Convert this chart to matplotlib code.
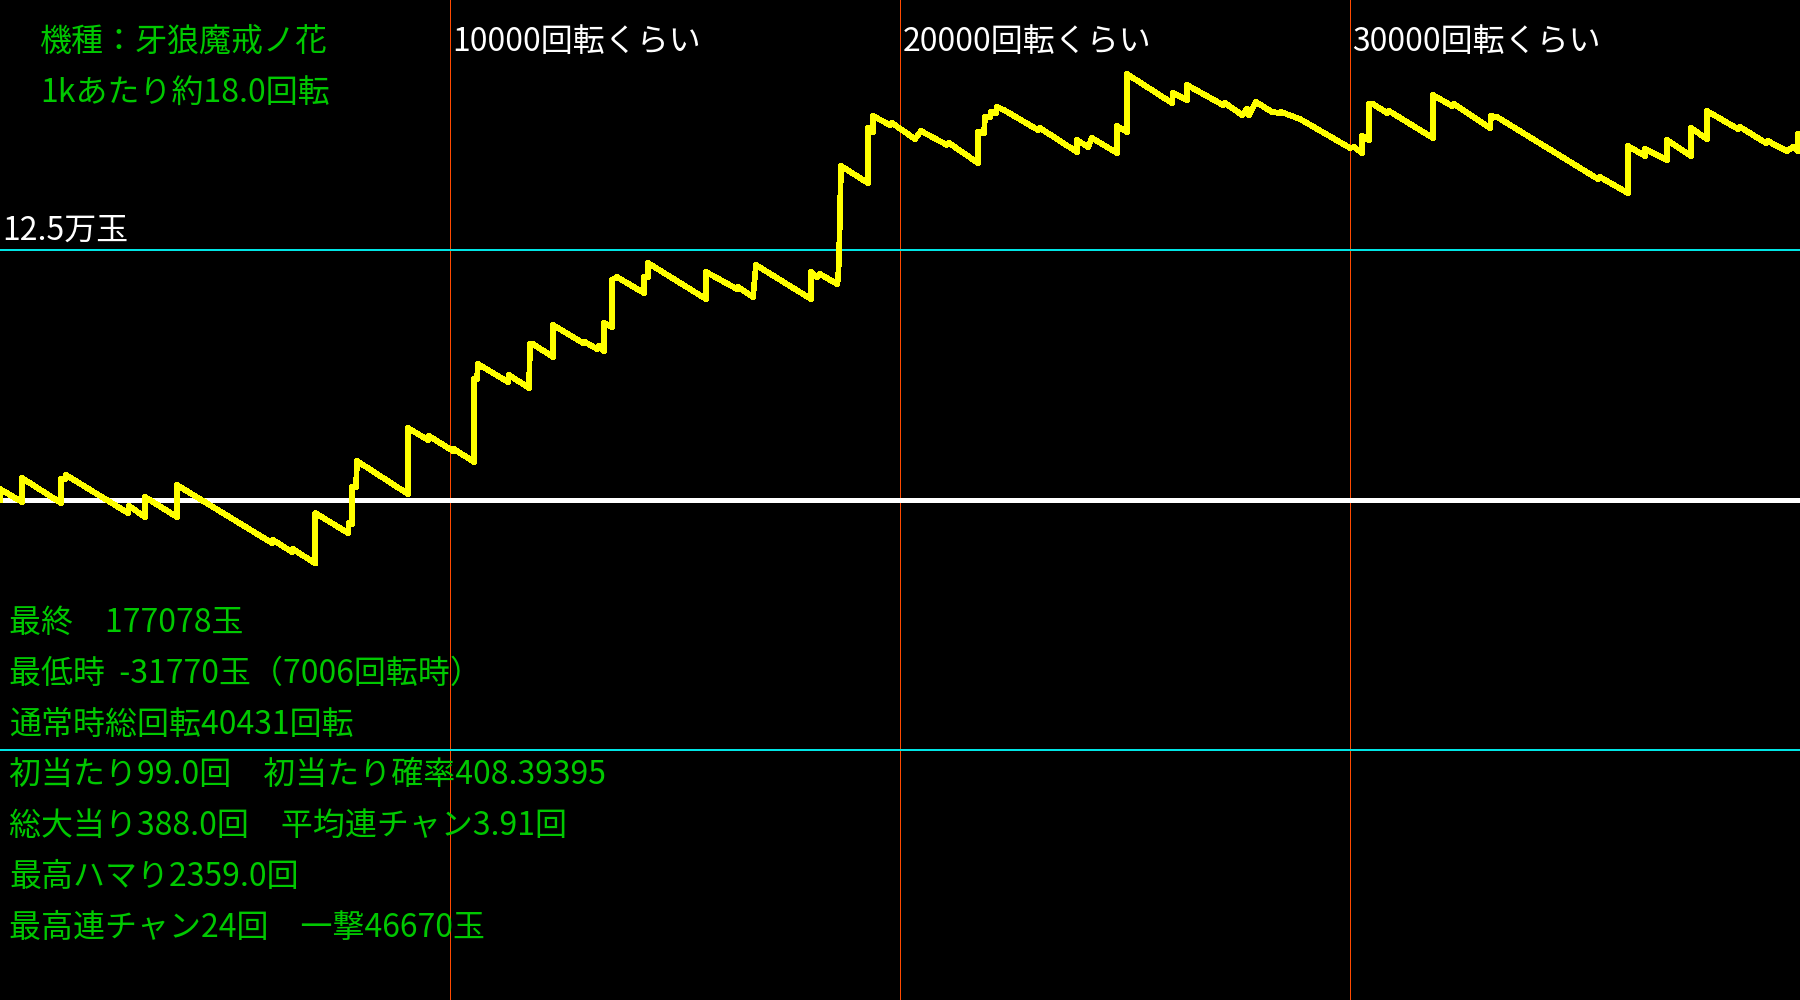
import matplotlib
matplotlib.use('Agg')
import matplotlib.pyplot as plt

plt.rcParams['font.family'] = ['Noto Sans CJK JP', 'DejaVu Sans']

# 差玉グラフの折れ点（回転数, 差玉）
kaiten = [0, 0, 489, 489, 1356, 1356, 1444, 1467, 2844, 2867, 3222, 3222, 3933, 3933,
          6044, 6067, 6489, 6511, 7006, 7006, 7733, 7756, 7822, 7822, 7911, 7933,
          9067, 9067, 9511, 9533, 10067, 10089, 10533, 10533, 10600, 10622,
          11289, 11311, 11756, 11778, 11844, 12289, 12289, 12956, 13000, 13267, 13311,
          13422, 13422, 13600, 13600, 13711, 14311, 14311, 14400, 14400,
          15689, 15689, 16378, 16400, 16733, 16800, 18022, 18022, 18156, 18222,
          18600, 18622, 18644, 18689, 19289, 19289, 19400, 19400, 19778, 19822,
          20333, 20467, 21044, 21089, 21733, 21733, 21867, 21889, 22000, 22022,
          22133, 22156, 22311, 23067, 23111, 23933, 23933, 24178, 24267, 24822, 24822,
          25044, 25044, 26044, 26067, 26378, 26378, 27178, 27222, 27600, 27711, 27756,
          27911, 28267, 28444, 28467, 28889, 30000, 30089, 30267, 30267, 30422, 30422,
          30511, 30822, 30867, 31844, 31844, 32267, 32311, 33111, 33133, 33267,
          35511, 35556, 35667, 36178, 36178, 36556, 36556, 37044, 37044, 37578, 37578,
          37933, 37933, 38622, 38667, 39244, 39289, 39444, 39711, 39844, 39956, 39956,
          40431]
sadama = [0, 5500, -1000, 11000, -1500, 10500, 10500, 12500, -6500, -3000, -8500, 1500, -8500, 7500,
          -21500, -20000, -26000, -24500, -31770, -6500, -16500, -11500, -12000, 6500, 6500, 19500,
          3000, 36000, 30000, 32000, 24500, 25500, 19000, 60500, 60500, 68000,
          59000, 62500, 56000, 78000, 78000, 71500, 87500, 78500, 79000, 75500, 77000,
          74500, 88500, 86500, 110000, 111500, 103500, 111500, 111500, 118500,
          100500, 114000, 105500, 106500, 101500, 117500, 100500, 114000, 111500, 113000,
          108000, 110000, 120000, 167000, 158500, 186000, 184000, 192000, 187500, 188500,
          180500, 184500, 177500, 178500, 168500, 184000, 183500, 191500, 191500, 194000,
          193500, 196500, 195000, 185000, 186000, 174000, 180000, 176500, 181000, 173500, 187000,
          184000, 213000, 198500, 203500, 200000, 207500, 197500, 198500, 192500, 195500, 192500,
          199000, 194000, 193500, 194000, 190500, 176000, 176500, 173500, 182000, 180000, 198000,
          198000, 193500, 194500, 181000, 202500, 197000, 198000, 186000, 192000, 191500,
          160500, 161500, 160000, 153500, 177000, 172000, 175500, 170000, 180000, 172000, 186000,
          180500, 194500, 185500, 186500, 178500, 179500, 177500, 174500, 176500, 174500, 183000,
          177078]

kugiri = [10000, 20000, 30000]
kugiri_labels = ['10000回転くらい', '20000回転くらい', '30000回転くらい']
haba = 125000

info_top = ['機種：牙狼魔戒ノ花', '1kあたり約18.0回転']
info_bottom = ['最終　177078玉',
               '最低時  -31770玉（7006回転時）',
               '通常時総回転40431回転',
               '初当たり99.0回　初当たり確率408.39395',
               '総大当り388.0回　平均連チャン3.91回',
               '最高ハマり2359.0回',
               '最高連チャン24回　一撃46670玉']

green = '#00C800'

fig = plt.figure(figsize=(18, 10), dpi=100, facecolor='black')
ax = fig.add_axes([0, 0, 1, 1])
ax.set_facecolor('black')
ax.set_xlim(0, 40000)
ax.set_ylim(-250000, 250000)
ax.axis('off')

for v in kugiri:
    ax.axvline(v, color='#FF4A00', lw=0.72, antialiased=False)
ax.axhline(haba, color='#00E5E5', lw=1.3, antialiased=False)
ax.axhline(-haba, color='#00E5E5', lw=1.3, antialiased=False)
ax.axhline(0, color='white', lw=2.4, antialiased=False)

ax.plot(kaiten, sadama, color='#FFFF00', lw=3.4, antialiased=False, zorder=5)

# ラベル
for v, s in zip(kugiri, kugiri_labels):
    ax.text(v + 50, 229000, s, color='white', fontsize=23, va='center', ha='left')
ax.text(50, 134500, '12.5万玉', color='white', fontsize=23, va='center', ha='left')

for i, s in enumerate(info_top):
    fig.text(40 / 1800, 1 - (42 + 51 * i) / 1000, s, color=green, fontsize=23, va='center')
for i, s in enumerate(info_bottom):
    fig.text(9 / 1800, 1 - (623 + 50.8 * i) / 1000, s, color=green, fontsize=23, va='center')

fig.savefig('out.png', dpi=100, facecolor='black')
